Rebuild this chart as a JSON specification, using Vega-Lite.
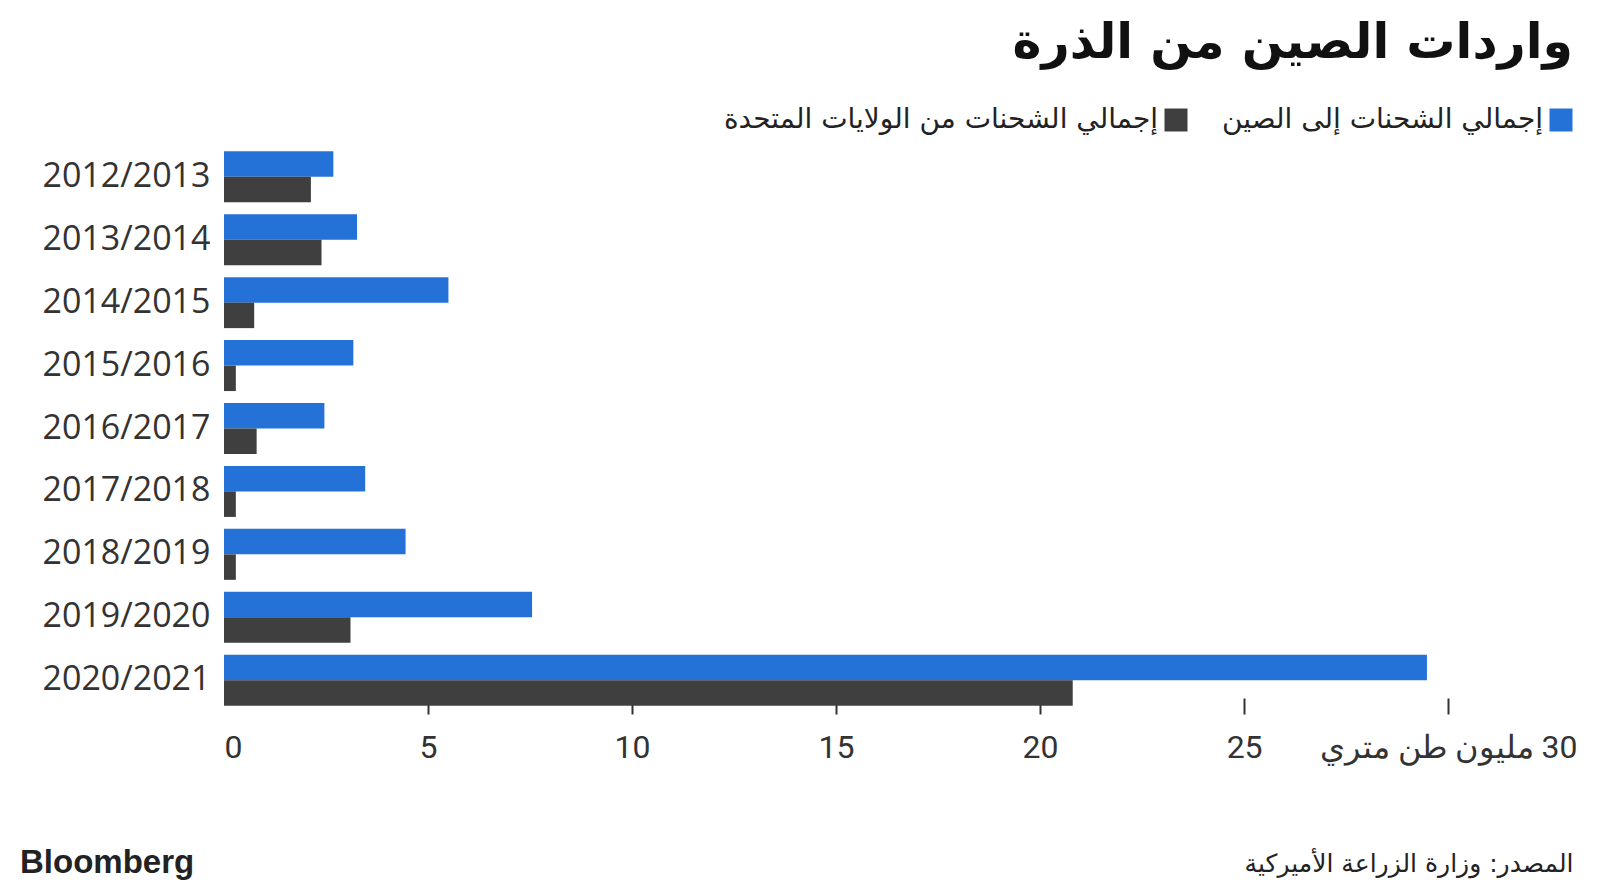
{
  "$schema": "https://vega.github.io/schema/vega-lite/v6.json",
  "background": "white",
  "padding": {"left": 20, "top": 19, "right": 10, "bottom": 6},
  "title": {"text": "Bloomberg", "orient": "bottom", "anchor": "start", "font": "Liberation Sans", "fontWeight": "bold", "fontSize": 33, "color": "#222222", "offset": -29},
  "config": {
    "view": {"stroke": null},
    "font": "DejaVu Sans",
    "legend": {"layout": {"top": {"anchor": "end"}}}
  },
  "vconcat": [
    {
      "width": 1349,
      "height": 567,
      "data": {
        "values": [
          {"season": "2012/2013", "series": "إجمالي الشحنات إلى الصين", "value": 2.68},
          {"season": "2012/2013", "series": "إجمالي الشحنات من الولايات المتحدة", "value": 2.13},
          {"season": "2013/2014", "series": "إجمالي الشحنات إلى الصين", "value": 3.26},
          {"season": "2013/2014", "series": "إجمالي الشحنات من الولايات المتحدة", "value": 2.39},
          {"season": "2014/2015", "series": "إجمالي الشحنات إلى الصين", "value": 5.5},
          {"season": "2014/2015", "series": "إجمالي الشحنات من الولايات المتحدة", "value": 0.74},
          {"season": "2015/2016", "series": "إجمالي الشحنات إلى الصين", "value": 3.17},
          {"season": "2015/2016", "series": "إجمالي الشحنات من الولايات المتحدة", "value": 0.29},
          {"season": "2016/2017", "series": "إجمالي الشحنات إلى الصين", "value": 2.46},
          {"season": "2016/2017", "series": "إجمالي الشحنات من الولايات المتحدة", "value": 0.8},
          {"season": "2017/2018", "series": "إجمالي الشحنات إلى الصين", "value": 3.46},
          {"season": "2017/2018", "series": "إجمالي الشحنات من الولايات المتحدة", "value": 0.29},
          {"season": "2018/2019", "series": "إجمالي الشحنات إلى الصين", "value": 4.45},
          {"season": "2018/2019", "series": "إجمالي الشحنات من الولايات المتحدة", "value": 0.29},
          {"season": "2019/2020", "series": "إجمالي الشحنات إلى الصين", "value": 7.55},
          {"season": "2019/2020", "series": "إجمالي الشحنات من الولايات المتحدة", "value": 3.1},
          {"season": "2020/2021", "series": "إجمالي الشحنات إلى الصين", "value": 29.48},
          {"season": "2020/2021", "series": "إجمالي الشحنات من الولايات المتحدة", "value": 20.8}
        ]
      },
      "mark": {"type": "bar"},
      "encoding": {
        "y": {
          "field": "season", "type": "nominal", "sort": null,
          "scale": {"paddingInner": 0.19, "paddingOuter": 0.1},
          "axis": {"title": null, "domain": false, "ticks": false, "labelFont": "Open Sans", "labelFontSize": 34, "labelColor": "#333333", "labelPadding": 14, "minExtent": 204}
        },
        "yOffset": {
          "field": "series", "type": "nominal",
          "sort": ["إجمالي الشحنات إلى الصين", "إجمالي الشحنات من الولايات المتحدة"]
        },
        "x": {
          "field": "value", "type": "quantitative",
          "scale": {"domain": [0, 33.06], "nice": false, "zero": true},
          "axis": {
            "orient": "bottom", "values": [0, 5, 10, 15, 20, 25, 30], "grid": false, "domain": false,
            "ticks": true, "tickSize": 16, "tickWidth": 2, "tickColor": "#333333", "offset": -14,
            "tickOpacity": {"condition": {"test": "datum.value == 0", "value": 0}, "value": 1},
            "labelFont": "Roboto", "labelFontSize": 32, "labelColor": "#333333", "labelPadding": 33, "labelBaseline": "middle", "labelFlush": true, "labelOverlap": false, "labelLimit": 500,
            "labelExpr": "datum.value == 30 ? 'مليون طن متري\u200e 30' : datum.label",
            "title": "المصدر: وزارة الزراعة الأميركية", "titleAnchor": "end", "titleFont": "DejaVu Sans", "titleFontSize": 25, "titleFontWeight": "normal", "titleColor": "#222222", "titlePadding": 88
          }
        },
        "color": {
          "field": "series", "type": "nominal",
          "scale": {"domain": ["إجمالي الشحنات من الولايات المتحدة", "إجمالي الشحنات إلى الصين"], "range": ["#3f3f3f", "#2472d8"]},
          "legend": {
            "orient": "top", "direction": "horizontal",
            "title": "واردات الصين من الذرة", "titleOrient": "top", "titleAnchor": "end", "titleAlign": "right", "titleFont": "DejaVu Sans", "titleFontWeight": "bold", "titleFontSize": 49, "titleColor": "#111111", "titlePadding": 38, "titleLimit": 1200,
            "symbolType": "square", "symbolSize": 529, "symbolStrokeWidth": 0, "symbolOpacity": 1,
            "labelAlign": "right", "labelOffset": -32, "labelFont": "DejaVu Sans", "labelFontSize": 28, "labelColor": "#222222", "labelLimit": 700,
            "columnPadding": 33, "offset": 11
          }
        }
      }
    }
  ]
}
